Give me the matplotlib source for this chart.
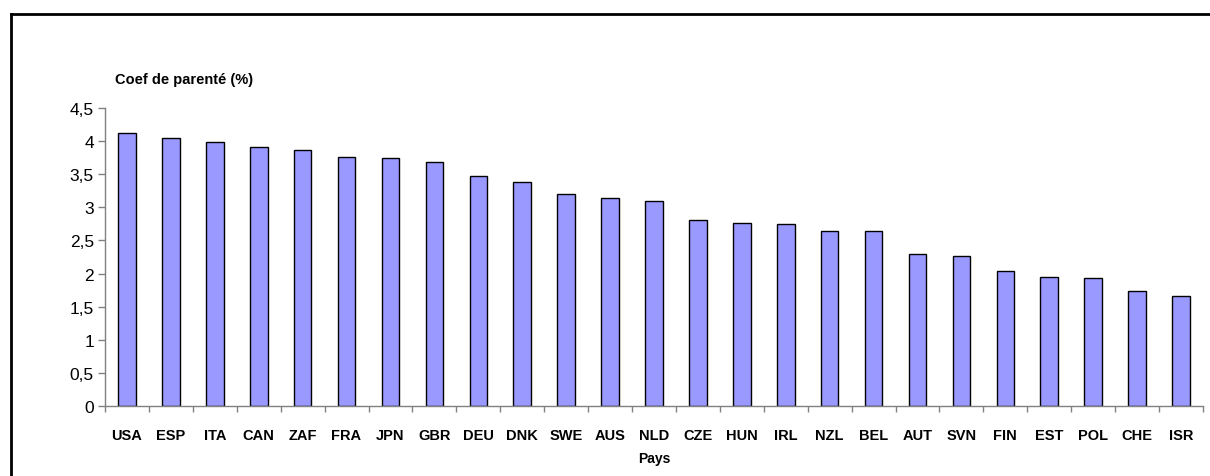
import matplotlib.pyplot as plt
from matplotlib.lines import Line2D
from matplotlib.ticker import FixedLocator, FuncFormatter
import numpy as np

# Coefficient de parenté par pays
pays = ['USA', 'ESP', 'ITA', 'CAN', 'ZAF', 'FRA', 'JPN', 'GBR', 'DEU', 'DNK',
        'SWE', 'AUS', 'NLD', 'CZE', 'HUN', 'IRL', 'NZL', 'BEL', 'AUT', 'SVN',
        'FIN', 'EST', 'POL', 'CHE', 'ISR']
coef = [4.12, 4.04, 3.99, 3.91, 3.86, 3.76, 3.74, 3.69, 3.48, 3.38,
        3.20, 3.14, 3.09, 2.81, 2.76, 2.75, 2.65, 2.64, 2.29, 2.27,
        2.04, 1.95, 1.93, 1.74, 1.66]
yticks = [0, 0.5, 1, 1.5, 2, 2.5, 3, 3.5, 4, 4.5]

plt.rcParams['font.family'] = ['Liberation Sans', 'DejaVu Sans']

fig = plt.figure(figsize=(12.10, 4.77), dpi=100)
ax = fig.add_axes([105/1210, 1 - 407/477, (1203 - 105)/1210, (407 - 109)/477])

x = np.arange(len(pays))
ax.bar(x, coef, width=0.4, color='#9999FF', edgecolor='black', linewidth=1)

ax.set_xlim(-0.5, len(pays) - 0.5)
ax.set_ylim(0, 4.5)
ax.set_yticks(yticks)
ax.yaxis.set_major_formatter(FuncFormatter(lambda v, p: ('%g' % v).replace('.', ',')))
ax.set_xticks(x)
ax.set_xticklabels(pays, fontsize=10.5, fontweight='bold')
ax.xaxis.set_minor_locator(FixedLocator(np.arange(-0.5, len(pays), 1)))
ax.tick_params(axis='x', which='major', length=0, pad=16)
ax.tick_params(axis='x', which='minor', length=4, color='#808080', width=1)
ax.tick_params(axis='y', length=5, color='#808080', width=1, labelsize=12.5, pad=3)

for s in ['top', 'right']:
    ax.spines[s].set_visible(False)
for s in ['left', 'bottom']:
    ax.spines[s].set_color('#808080')
    ax.spines[s].set_linewidth(1)

ax.set_xlabel('Pays', fontsize=10, fontweight='bold', labelpad=6)
fig.text(115/1210, 1 - 80/477, 'Coef de parenté (%)', fontsize=10.5,
         fontweight='bold', ha='left', va='center')

# cadre du graphique
fig.add_artist(Line2D([11/1210, 1], [1 - 15/477, 1 - 15/477], color='black', linewidth=2))
fig.add_artist(Line2D([11/1210, 11/1210], [0, 1 - 15/477], color='black', linewidth=2))

plt.savefig('out.png', dpi=100)
